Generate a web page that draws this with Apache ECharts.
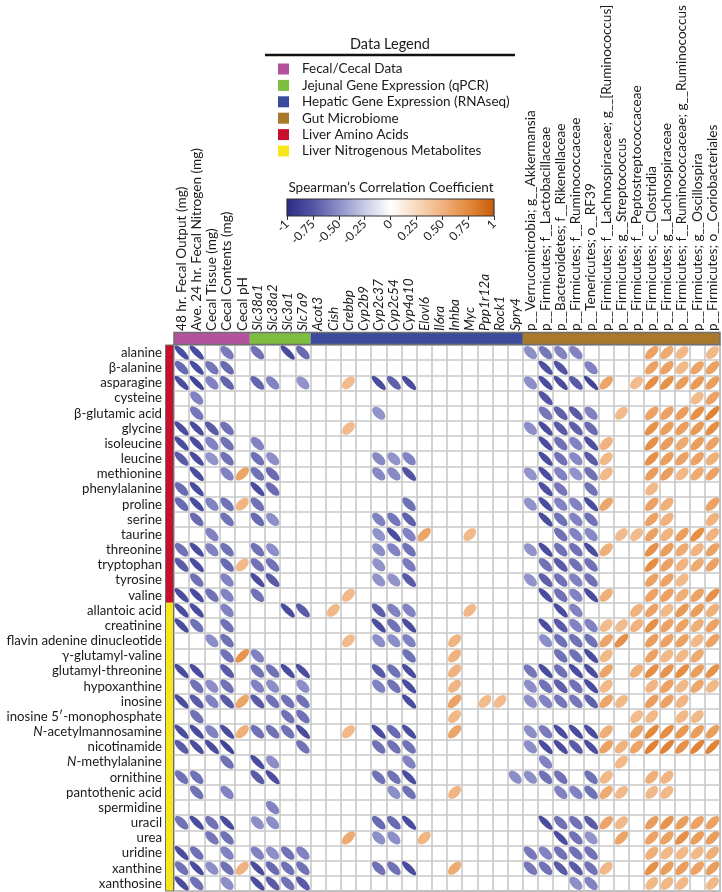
<!DOCTYPE html>
<html><head><meta charset="utf-8">
<script src="https://cdn.jsdelivr.net/npm/echarts/dist/echarts.min.js"></script>
<style>html,body{margin:0;padding:0;background:#fff}#c{width:722px;height:892px}</style>
</head><body><div id="c"></div>
<script>
// ---------------- DATA ----------------
const fecalLabels = ['48 hr. Fecal Output (mg)','Ave. 24 hr. Fecal Nitrogen (mg)','Cecal Tissue (mg)','Cecal Contents (mg)','Cecal pH'];
const jejunalLabels = ['Slc38a1','Slc38a2','Slc3a1','Slc7a9'];
const hepaticLabels = ['Acot3','Cish','Crebbp','Cyp2b9','Cyp2c37','Cyp2c54','Cyp4a10','Elovl6','Il6ra','Inhba','Myc','Ppp1r12a','Rock1','Spry4'];
const microbiomeLabels = ['p__Verrucomicrobia; g__Akkermansia','p__Firmicutes; f__Lactobacillaceae','p__Bacteroidetes; f__Rikenellaceae','p__Firmicutes; f__Ruminococcaceae','p__Tenericutes; o__RF39','p__Firmicutes; f__Lachnospiraceae; g__[Ruminococcus]','p__Firmicutes; g__Streptococcus','p__Firmicutes; f__Peptostreptococcaceae','p__Firmicutes; c__Clostridia','p__Firmicutes; g__Lachnospiraceae','p__Firmicutes; f__Ruminococcaceae; g__Ruminococcus','p__Firmicutes; g__Oscillospira','p__Firmicutes; o__Coriobacteriales'];

const aminoAcidLabels = ['alanine','β-alanine','asparagine','cysteine','β-glutamic acid','glycine','isoleucine','leucine','methionine','phenylalanine','proline','serine','taurine','threonine','tryptophan','tyrosine','valine'];
const nitroLabels = ['allantoic acid','creatinine','flavin adenine dinucleotide','γ-glutamyl-valine','glutamyl-threonine','hypoxanthine','inosine','inosine 5′-monophosphate','N-acetylmannosamine','nicotinamide','N-methylalanine','ornithine','pantothenic acid','spermidine','uracil','urea','uridine','xanthine','xanthosine'];

// Spearman r per row: [5 fecal | 4 jejunal | 14 hepatic | 13 microbiome]; 0 = blank cell
const aminoAcidCorr = [
 [-.8,-.8,0,-.58,0, -.62,0,-.8,-.65, 0,0,0,0,0,0,0,0,0,0,0,0,0,0, -.5,-.6,-.55,-.55,0,0,0,0,.6,.55,.46,0,.46],
 [-.65,-.8,-.6,-.65,0, 0,0,0,0, 0,0,0,0,0,0,0,0,0,0,0,0,0,0, 0,-.78,-.75,0,-.55,0,0,0,.6,.6,.46,.58,.6],
 [-.8,-.85,-.55,-.68,0, -.68,-.55,0,-.48, 0,0,.44,0,-.8,-.7,-.8,0,0,0,0,0,0,0, -.5,-.8,-.8,-.72,-.85,.58,0,.44,.72,.7,.62,.65,.62],
 [0,-.55,0,0,0, 0,0,0,0, 0,0,0,0,0,0,0,0,0,0,0,0,0,0, 0,-.75,0,0,0,0,0,0,0,0,0,.44,.6],
 [0,-.6,0,0,0, 0,0,0,0, 0,0,0,0,-.48,0,0,0,0,0,0,0,0,0, 0,-.6,-.7,-.72,-.55,0,.44,0,.6,.6,.62,.7,.78],
 [-.8,-.8,-.72,-.62,0, 0,0,0,0, 0,0,.44,0,0,0,0,0,0,0,0,0,0,0, -.5,-.8,-.72,-.7,-.65,0,0,0,.7,.62,.62,.65,.72],
 [-.8,-.8,-.55,-.62,0, -.55,0,0,0, 0,0,0,0,0,0,0,0,0,0,0,0,0,0, 0,-.8,-.62,-.55,-.78,.5,0,0,.7,.62,.55,.62,.6],
 [-.72,-.8,-.48,-.62,0, -.62,-.5,0,0, 0,0,0,0,-.52,-.48,-.55,0,0,0,0,0,0,0, 0,-.8,-.62,-.52,-.72,.46,0,0,.7,.62,.6,.6,.52],
 [0,-.8,0,-.55,.58, -.62,-.65,0,0, 0,0,0,0,-.52,-.52,-.75,0,0,0,0,0,0,0, -.48,-.8,-.55,-.48,-.62,.46,0,0,.62,.62,.46,.55,.6],
 [-.65,-.8,0,0,0, -.8,-.65,0,0, 0,0,0,0,0,0,0,0,0,0,0,0,0,0, 0,-.78,-.6,0,-.62,0,0,0,.46,0,0,0,0],
 [-.65,-.8,-.55,-.62,.48, -.62,0,0,0, 0,0,0,0,0,0,-.62,0,0,0,0,0,0,0, -.48,-.8,-.55,-.55,-.8,.58,0,0,.6,.52,0,0,.6],
 [0,-.65,0,-.62,0, -.65,-.5,0,0, 0,0,0,0,-.55,-.6,-.7,0,0,0,0,0,0,0, 0,-.8,-.62,-.55,-.62,0,0,0,.6,.5,0,0,.5],
 [0,0,-.55,0,0, 0,0,0,0, 0,0,0,0,-.48,-.8,-.55,.58,0,0,.46,0,0,0, 0,0,-.62,-.55,-.52,0,.44,.44,.6,.5,.62,.72,.5],
 [-.62,-.8,-.55,-.62,0, -.62,-.5,0,0, 0,0,0,0,-.5,-.55,-.62,0,0,0,0,0,0,0, -.48,-.8,-.62,-.62,-.8,.52,0,0,.7,.62,.55,.5,.6],
 [-.72,-.8,0,-.65,.46, -.62,-.62,0,0, 0,0,0,0,-.48,0,-.58,0,0,0,0,0,0,0, 0,-.62,-.72,-.62,-.62,0,0,0,.72,.6,.48,.55,.6],
 [0,-.62,0,-.55,0, -.8,-.72,0,0, 0,0,0,0,-.48,-.48,-.72,0,0,0,0,0,0,0, -.48,-.7,-.62,-.55,-.62,0,0,0,.6,.6,.46,0,0],
 [-.8,-.8,-.62,-.55,0, -.62,0,0,0, 0,0,.46,0,0,0,0,0,0,0,0,0,0,0, 0,-.8,-.62,-.55,-.8,.52,0,0,.6,.6,.52,.6,.7]
];
const nitroCorr = [
 [-.8,-.8,0,-.55,0, 0,0,-.8,-.72, 0,.46,0,0,-.7,-.55,-.55,0,0,0,.46,0,0,0, 0,0,-.8,-.55,0,0,0,.5,.6,.46,.65,.62,.52],
 [-.8,-.62,0,-.62,0, 0,0,0,0, 0,0,0,0,-.8,-.62,-.8,0,0,0,0,0,0,0, 0,-.8,-.72,-.55,-.55,.44,.44,.5,.7,.6,.6,.52,.6],
 [0,0,-.5,-.62,0, 0,0,0,0, 0,0,.44,0,-.5,-.5,-.55,0,0,.48,0,0,0,0, 0,-.5,-.62,-.62,-.62,.58,.7,0,.62,.6,.6,.46,.6],
 [0,0,0,-.62,.68, -.55,0,0,0, 0,0,0,0,0,0,-.62,0,0,.5,0,0,0,0, 0,0,-.62,-.62,-.8,.46,0,0,.6,.46,.46,.55,0],
 [-.8,-.8,0,-.72,0, -.62,-.62,-.8,-.8, 0,0,0,0,-.72,-.62,-.8,0,0,.5,0,0,0,0, -.6,-.8,-.62,-.8,-.8,.58,0,.52,.72,.68,.72,.62,.7],
 [0,-.62,-.5,-.62,0, -.55,-.5,0,-.5, 0,0,0,0,-.55,-.62,-.8,0,0,.48,0,0,0,0, -.5,-.62,-.7,-.62,-.8,.46,0,0,.48,.6,.46,.56,.46],
 [-.8,-.72,-.55,-.72,.58, -.72,-.62,-.62,-.62, 0,0,0,0,0,0,-.8,0,0,.6,0,.44,.44,0, -.5,-.55,-.6,-.6,-.7,.58,.46,0,.62,.6,.48,0,0],
 [0,-.62,0,0,0, 0,0,-.62,-.62, 0,0,0,0,0,0,0,0,0,.46,0,0,0,0, 0,0,0,0,0,0,0,.44,.46,0,.46,.46,0],
 [-.8,-.8,-.55,-.8,.52, -.62,-.62,-.62,-.8, 0,0,.46,0,-.8,-.65,-.8,0,0,.58,0,0,0,0, -.5,-.58,-.8,-.8,-.8,.52,0,.58,.75,.72,.65,.62,.62],
 [-.72,-.8,-.8,-.85,0, 0,0,0,-.62, 0,0,0,0,-.62,-.62,-.62,0,0,0,0,0,0,0, -.5,-.8,-.8,-.72,-.8,.6,.5,.58,.78,.78,.7,.78,.78],
 [0,0,0,-.62,0, -.8,-.5,0,0, 0,0,0,0,0,0,-.55,0,0,0,0,0,0,0, 0,-.55,0,0,0,0,.46,0,0,0,0,0,0],
 [-.62,-.62,0,0,0, -.72,-.8,0,0, 0,0,0,0,-.62,-.62,-.8,0,0,0,0,0,0,-.5, -.5,-.62,-.62,0,-.62,.46,0,0,.52,.48,0,0,0],
 [0,-.62,0,-.55,0, 0,0,0,0, 0,0,0,0,0,-.5,-.62,0,0,.48,0,0,0,0, 0,0,-.55,-.55,-.62,.55,.46,0,.46,.46,0,0,0],
 [0,0,0,0,0, 0,-.55,0,0, 0,0,0,0,0,0,0,0,0,0,0,0,0,0, 0,0,0,0,0,0,0,0,0,0,0,0,0],
 [-.62,-.8,-.62,-.8,0, -.5,-.5,0,0, 0,0,0,0,-.65,-.65,-.8,0,0,0,0,0,0,0, 0,-.8,-.62,-.62,-.72,.58,.46,0,.62,.68,.62,.6,.6],
 [0,0,-.6,-.62,0, 0,0,0,0, 0,0,.55,0,-.5,-.5,0,.48,0,0,0,0,0,0, 0,0,-.8,-.62,-.48,0,.58,0,.6,.6,.7,.62,.62],
 [-.8,-.62,0,-.55,0, -.55,-.5,-.62,-.55, 0,0,0,0,0,0,0,0,0,0,0,0,0,0, -.6,-.55,-.62,-.62,-.62,0,0,0,.52,.46,.46,.46,.52],
 [-.62,-.8,-.5,-.62,.5, -.8,-.65,-.62,-.62, 0,0,0,0,-.62,-.62,-.8,0,0,.55,0,0,0,0, -.6,-.62,-.72,-.72,-.62,.46,0,0,.7,.62,.62,.6,.62],
 [-.8,-.62,0,-.5,0, -.8,-.72,-.62,-.72, 0,0,0,0,0,0,0,0,0,0,0,0,0,0, 0,0,0,-.5,-.55,0,0,0,.46,.46,.46,0,.46]
];

const colorbarTicks = ['-1','-0.75','-0.50','-0.25','0','0.25','0.50','0.75','1'];
const colorScale = ['#2b2d85','#5254a3','#8c8ec8','#c9cae5','#ffffff','#f8d9bf','#f0b27e','#e3893c','#c85a0a'];

const groupsTop = [
  {name:'Fecal/Cecal Data', labels: fecalLabels, color:'#b4529e'},
  {name:'Jejunal Gene Expression (qPCR)', labels: jejunalLabels, color:'#7dbd40'},
  {name:'Hepatic Gene Expression (RNAseq)', labels: hepaticLabels, color:'#3b4a9b'},
  {name:'Gut Microbiome', labels: microbiomeLabels, color:'#a8792b'}
];
const groupsLeft = [
  {name:'Liver Amino Acids', labels: aminoAcidLabels, color:'#c8102e'},
  {name:'Liver Nitrogenous Metabolites', labels: nitroLabels, color:'#f6e61c'}
];

// ---------------- BUILD ----------------
const FONT = 'Lato, "Liberation Sans", sans-serif';
const colLabels = [].concat(fecalLabels, jejunalLabels, hepaticLabels, microbiomeLabels);
const rowLabels = [].concat(aminoAcidLabels, nitroLabels);
const italicCols = new Set([].concat(jejunalLabels, hepaticLabels));
const allRows = [].concat(aminoAcidCorr, nitroCorr);
const cells = [];
allRows.forEach((row, ri) => row.forEach((v, ci) => { if (v !== 0) cells.push([ci, ri, v]); }));

const GL = 174, GT = 345, GW = 546, GH = 546;

function ellipseRender(params, api) {
  const c = api.value(0), r = api.value(1), v = api.value(2);
  const p = api.coord([c, r]);
  const sz = api.size([1, 1]);
  const s = Math.min(sz[0], sz[1]);
  const ar = Math.min(Math.abs(v), 0.95);
  const k = s * (0.37 + 0.12 * ar);
  const a = k * Math.sqrt(1 + ar), b = k * Math.sqrt(1 - ar);
  const th = v > 0 ? -Math.PI / 4 : Math.PI / 4;
  const ct = Math.cos(th), st = Math.sin(th);
  const pts = [];
  for (let i = 0; i < 40; i++) {
    const t = i / 40 * 2 * Math.PI;
    const x = a * Math.cos(t), y = b * Math.sin(t);
    pts.push([p[0] + x * ct - y * st, p[1] + x * st + y * ct]);
  }
  return {type: 'polygon', shape: {points: pts}, style: {fill: api.visual('color')}};
}

function topGroupRender(params, api) {
  const cs = params.coordSys;
  const cw = api.size([1, 1])[0];
  const x0 = api.coord([api.value(0), 0])[0] - cw / 2;
  const x1 = api.coord([api.value(1), 0])[0] + cw / 2;
  return {type: 'rect', shape: {x: x0, y: cs.y - 12, width: x1 - x0, height: 11}, style: {fill: api.visual('color')}};
}
function leftGroupRender(params, api) {
  const cs = params.coordSys;
  const ch = api.size([1, 1])[1];
  const y0 = api.coord([0, api.value(0)])[1] - ch / 2;
  const y1 = api.coord([0, api.value(1)])[1] + ch / 2;
  return {type: 'rect', shape: {x: cs.x - 8, y: y0, width: 7, height: y1 - y0}, style: {fill: api.visual('color')}};
}
function colorbarRender(params, api) {
  const p0 = api.coord([api.value(0), 1]);
  const p1 = api.coord([api.value(1), 0]);
  const stops = colorScale.map((c, i) => ({offset: i / (colorScale.length - 1), color: c}));
  return {type: 'rect', shape: {x: p0[0], y: p0[1], width: p1[0] - p0[0], height: p1[1] - p0[1]},
    style: {fill: new echarts.graphic.LinearGradient(0, 0, 1, 0, stops), stroke: '#333', lineWidth: 1.2}};
}

const groupSeries = [];
let start = 0;
groupsTop.forEach(g => {
  groupSeries.push({name: g.name, type: 'custom', coordinateSystem: 'cartesian2d', xAxisIndex: 0, yAxisIndex: 0,
    itemStyle: {color: g.color}, renderItem: topGroupRender, data: [[start, start + g.labels.length - 1]], silent: true});
  start += g.labels.length;
});
start = 0;
groupsLeft.forEach(g => {
  groupSeries.push({name: g.name, type: 'custom', coordinateSystem: 'cartesian2d', xAxisIndex: 0, yAxisIndex: 0,
    itemStyle: {color: g.color}, renderItem: leftGroupRender,
    encode: {x: -1, y: [0, 1]}, data: [[start, start + g.labels.length - 1]], silent: true});
  start += g.labels.length;
});

const legendNames = [].concat(groupsTop.map(g => g.name), groupsLeft.map(g => g.name));

const chart = echarts.init(document.getElementById('c'), null, {renderer: 'canvas'});
chart.setOption({
  animation: false,
  backgroundColor: '#ffffff',
  textStyle: {fontFamily: FONT},
  grid: [
    {left: GL, top: GT, width: GW, height: GH, show: true, borderColor: '#8a8a8a', borderWidth: 1.5, containLabel: false, outerBoundsMode: 'none'},
    {left: 287, top: 199, width: 207, height: 17, containLabel: false, outerBoundsMode: 'none'}
  ],
  xAxis: [
    {type: 'category', gridIndex: 0, data: colLabels, position: 'top',
      axisLine: {show: false}, axisTick: {show: false},
      axisLabel: {interval: 0, rotate: -90, margin: 14, fontSize: 13.6, color: '#1a1a1a', fontFamily: FONT,
        formatter: v => italicCols.has(v) ? '{i|' + v + '}' : v,
        rich: {i: {fontStyle: 'italic', fontSize: 13.6, color: '#1a1a1a', fontFamily: FONT}}},
      splitLine: {show: true, interval: 0, lineStyle: {color: '#c8c8c8', width: 1.6}}},
    {type: 'value', gridIndex: 1, min: -1, max: 1, interval: 0.25, position: 'bottom',
      axisLine: {show: false}, axisTick: {show: true, length: 4, lineStyle: {color: '#333'}},
      axisLabel: {rotate: 45, margin: 6, fontSize: 12, color: '#222', fontFamily: FONT,
        formatter: v => colorbarTicks[Math.round((v + 1) / 0.25)]},
      splitLine: {show: false}}
  ],
  yAxis: [
    {type: 'category', gridIndex: 0, data: rowLabels, inverse: true,
      axisLine: {show: false}, axisTick: {show: false},
      axisLabel: {interval: 0, margin: 12, fontSize: 13.2, color: '#1a1a1a', fontFamily: FONT,
        formatter: v => v.indexOf('N-') === 0 ? '{i|N}-' + v.slice(2) : v,
        rich: {i: {fontStyle: 'italic', fontSize: 13.2, color: '#1a1a1a', fontFamily: FONT}}},
      splitLine: {show: true, interval: 0, lineStyle: {color: '#c8c8c8', width: 1.6}}},
    {type: 'value', gridIndex: 1, min: 0, max: 1, show: false}
  ],
  visualMap: {type: 'continuous', show: false, seriesIndex: 0, dimension: 2, min: -1, max: 1, inRange: {color: colorScale}},
  legend: {data: legendNames, orient: 'vertical', left: 273, top: 57, itemWidth: 11, itemHeight: 11, itemGap: 2.4,
    icon: 'rect', selectedMode: false,
    textStyle: {fontFamily: FONT, fontSize: 13.5, color: '#1a1a1a', lineHeight: 14, padding: [0, 0, 0, 8]}},
  graphic: [
    {type: 'text', x: 390, y: 44, style: {text: 'Data Legend', font: '14.5px ' + FONT, fill: '#1a1a1a', textAlign: 'center', textVerticalAlign: 'middle'}},
    {type: 'line', shape: {x1: 265, y1: 55, x2: 515, y2: 55}, style: {stroke: '#111', lineWidth: 2.5}},
    {type: 'text', x: 391, y: 188, style: {text: 'Spearman’s Correlation Coefficient', font: '13.5px ' + FONT, fill: '#1a1a1a', textAlign: 'center', textVerticalAlign: 'middle'}},
    {type: 'rect', shape: {x: GL, y: GT - 12.5, width: GW, height: 12}, style: {fill: 'none', stroke: '#707070', lineWidth: 1.5}, z: 10},
    {type: 'rect', shape: {x: GL - 8.5, y: GT, width: 8, height: GH}, style: {fill: 'none', stroke: '#707070', lineWidth: 1}, z: 10}
  ],
  series: [
    {type: 'custom', name: 'corr', coordinateSystem: 'cartesian2d', xAxisIndex: 0, yAxisIndex: 0,
      renderItem: ellipseRender, data: cells, silent: true, z: 5},
    {type: 'custom', name: 'colorbar', coordinateSystem: 'cartesian2d', xAxisIndex: 1, yAxisIndex: 1,
      renderItem: colorbarRender, data: [[Number(colorbarTicks[0]), Number(colorbarTicks[colorbarTicks.length - 1])]], silent: true}
  ].concat(groupSeries)
});
</script></body></html>
